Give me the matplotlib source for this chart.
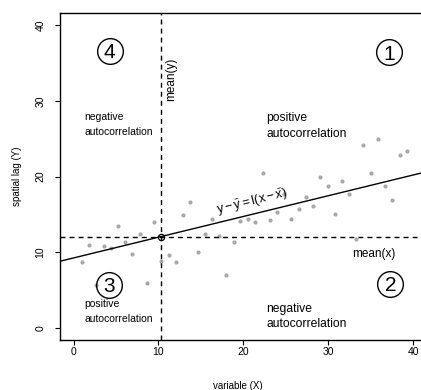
import matplotlib
matplotlib.use("Agg")
import matplotlib.pyplot as plt

plt.rcParams['font.family'] = ['Liberation Sans', 'DejaVu Sans']
plt.rcParams['mathtext.fontset'] = 'custom'
plt.rcParams['mathtext.rm'] = 'Liberation Sans'
plt.rcParams['mathtext.it'] = 'Liberation Sans'

# data
x_vals = [1.0, 1.84, 2.64, 3.55, 4.38, 5.26, 6.10, 6.93, 7.80, 8.64, 9.49, 10.34,
          11.20, 12.05, 12.87, 13.75, 14.60, 15.45, 16.26, 17.14, 17.99, 18.84,
          19.65, 20.55, 21.40, 22.27, 23.10, 23.95, 24.79, 25.64, 26.49, 27.35,
          28.18, 29.04, 29.91, 30.74, 31.56, 32.42, 33.29, 34.14, 34.99, 35.85,
          36.70, 37.56, 38.41, 39.24]
y_vals = [8.75, 10.92, 5.71, 10.77, 10.53, 13.52, 11.35, 9.70, 12.34, 5.88, 13.96, 8.87,
          9.67, 8.71, 14.91, 16.60, 10.07, 12.34, 14.42, 12.18, 6.99, 11.36,
          14.18, 14.45, 13.96, 20.46, 14.22, 15.25, 17.74, 14.43, 15.74, 17.23,
          16.13, 19.87, 18.75, 15.01, 19.39, 17.65, 11.78, 24.22, 20.46, 25.01,
          18.77, 16.93, 22.86, 23.42]
mean_x_line = 10.25   # vertical dashed line
mean_y_line = 12.05   # horizontal dashed line
slope = 0.274
ticks = [0, 10, 20, 30, 40]

fig = plt.figure(figsize=(4.21, 3.9), dpi=100)
ax = fig.add_axes([60/421, 50/390, 366.8/421, 327/390])
ax.set_xlim(-1.6, 41.6)
ax.set_ylim(-1.6, 41.6)

ax.plot(x_vals, y_vals, 'o', color='#a8a8a8', ms=3.0, mew=0, zorder=2)

dash = (3.6, 2.9)
l1 = ax.axvline(mean_x_line, color='black', lw=1.0, zorder=3)
l1.set_dashes(dash)
l2 = ax.axhline(mean_y_line, color='black', lw=1.0, zorder=3)
l2.set_dashes(dash)
ax.axline((mean_x_line, mean_y_line), slope=slope, color='black', lw=1.0, zorder=3)
ax.plot([mean_x_line], [mean_y_line], 'o', mfc='none', mec='black', ms=4.5, mew=0.9, zorder=4)

# circled quadrant numbers
quads = [("4", 4.26, 36.58), ("1", 37.18, 36.41), ("3", 4.14, 5.71), ("2", 37.30, 5.84)]
for lab, qx, qy in quads:
    ax.plot([qx], [qy], 'o', mfc='none', mec='black', ms=18.5, mew=1.0, zorder=5)
    ax.annotate(lab, (qx, qy), xytext=(0, -5.3), textcoords='offset points',
                ha='center', va='baseline', fontsize=15, zorder=6)

# quadrant descriptions
small = 7.5
big = 8.7
ax.text(1.27, 27.41, "negative", fontsize=small, va='baseline')
ax.text(1.27, 25.44, "autocorrelation", fontsize=small, va='baseline')
ax.text(22.71, 27.28, "positive", fontsize=big, va='baseline')
ax.text(22.71, 25.24, "autocorrelation", fontsize=big, va='baseline')
ax.text(1.27, 2.81, "positive", fontsize=small, va='baseline')
ax.text(1.27, 0.83, "autocorrelation", fontsize=small, va='baseline')
ax.text(22.71, 2.08, "negative", fontsize=big, va='baseline')
ax.text(22.71, 0.17, "autocorrelation", fontsize=big, va='baseline')

ax.text(11.5, 32.9, "mean(y)", rotation=90, fontsize=8.5, ha='center', va='center')
ax.text(35.4, 9.8, "mean(x)", fontsize=8.5, ha='center', va='center')
ax.text(21.04, 16.66, r"$\mathrm{y - \bar{y} = I(x - \bar{x})}$", fontsize=9,
        rotation=14, rotation_mode='anchor', ha='center', va='center')

ax.set_xticks(ticks)
ax.set_yticks(ticks)
ax.tick_params(axis='both', labelsize=7.5, length=3.6, width=0.8, color='black')
ax.tick_params(axis='x', pad=1.5)
ax.tick_params(axis='y', pad=7)
for lab in ax.get_yticklabels():
    lab.set_rotation(90)
    lab.set_va('center')
for sp in ax.spines.values():
    sp.set_linewidth(1.0)

fig.text(238/421, 1 - 386/390, "variable (X)", fontsize=7, ha='center', va='center')
fig.text(17.5/421, 1 - 176/390, "spatial lag (Y)", fontsize=7, rotation=90, ha='center', va='center')

fig.savefig("out.png", dpi=100)
